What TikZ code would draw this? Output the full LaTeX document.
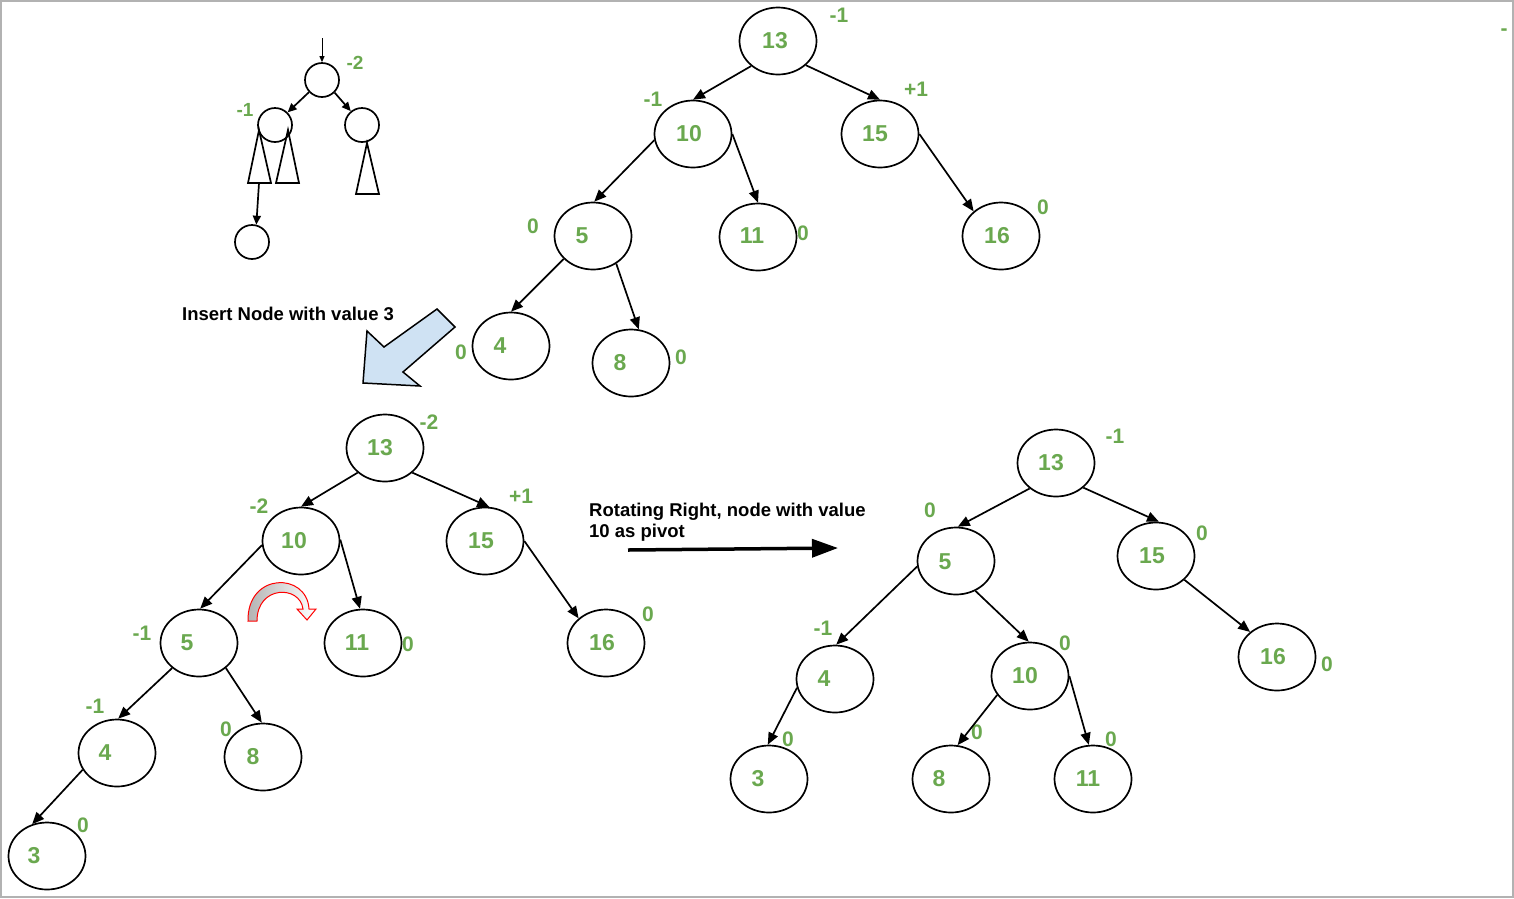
\documentclass[tikz,border=0pt]{standalone}
\usepackage{fontspec}
\setmainfont{Liberation Sans}
\usetikzlibrary{shapes.geometric,arrows.meta}
\definecolor{gr}{RGB}{106,168,79}
\definecolor{lb}{RGB}{207,226,243}
\newcommand\avlnode[6]{%
  \node[tn] (#1) at (#2) {};
  \node[num] (#1t) at (#3) {#4};
  \node[bal] (#1b) at (#5) {#6};}
\begin{document}
\begin{tikzpicture}[x=1pt,y=-1pt,
  tn/.style={draw,ellipse,line width=1.7pt,minimum width=77pt,minimum height=67pt,inner sep=0pt},
  num/.style={text=gr,font=\fontsize{23}{23}\selectfont\bfseries,inner sep=0pt},
  bal/.style={text=gr,font=\fontsize{21}{21}\selectfont\bfseries,inner sep=0pt},
  sbal/.style={text=gr,font=\fontsize{19}{19}\selectfont\bfseries,inner sep=0pt},
  edge/.style={line width=1.7pt,-{Triangle[length=12pt,width=10pt]}},
  sedge/.style={line width=1.7pt,-{Triangle[length=9pt,width=8pt]}},
  sc/.style={draw,circle,line width=1.7pt,minimum size=34pt,inner sep=0pt},
  tri/.style={draw,line width=1.7pt},
  lbl/.style={font=\fontsize{18.5}{18.5}\selectfont\bfseries,inner sep=0pt,anchor=base west}]
\useasboundingbox (0,0) rectangle (1514,898);
\draw[gray!60,line width=1.5pt] (1,1) rectangle (1513,897);

% ---------- small schematic ----------
\node[sc] (S1) at (322,80) {};
\node[sc] (S2) at (275,125) {};
\node[sc] (S3) at (362,125) {};
\node[sc] (S4) at (252,242) {};
\coordinate (Sin) at (322,38);
\draw[line width=0.9pt,-{Triangle[length=6pt,width=5pt]}] (Sin) -- (S1.north);
\draw[sedge] (S1.223) -- (S2.45);
\draw[sedge] (S1.315) -- (S3.129);
\draw[tri] (259,130) -- (248,183) -- (271,183) -- cycle;
\draw[tri] (288,130) -- (276,183) -- (299,183) -- cycle;
\draw[tri] (367,143) -- (356,194) -- (379,194) -- cycle;
\coordinate (T1b) at (259,183);
\draw[sedge] (T1b) -- (S4.76);
\node[sbal] (S1b) at (355,63) {-2};
\node[sbal] (S2b) at (245,110) {-1};

% ---------- top tree ----------
\avlnode{A13}{778,41}{775,41}{13}{839,15}{-1}
\avlnode{A10}{693,134}{689,134}{10}{653,99}{-1}
\avlnode{A15}{880,134}{875,134}{15}{916,89}{+1}
\avlnode{A5}{593,236}{582,236}{5}{533,226}{0}
\avlnode{A11}{758,237}{752,236}{11}{803,233}{0}
\avlnode{A16}{1001,236}{997,236}{16}{1043,207}{0}
\avlnode{A4}{511,346}{500,346}{4}{461,352}{0}
\avlnode{A8}{631,363}{620,363}{8}{681,357}{0}
\draw[edge] (A13.223) -- (A10.90);
\draw[edge] (A13.319) -- (A15.90);
\draw[edge] (A10.189) -- (A5.88);
\draw[edge] (A10.0) -- (A11.90);
\draw[edge] (A15.0) -- (A16.138);
\draw[edge] (A5.218) -- (A4.90);
\draw[edge] (A5.310) -- (A8.77);

% ---------- insert arrow ----------
\node[lbl] (ins) at (182,320) {Insert Node with value 3};
\draw[fill=lb,line width=1.5pt,line join=miter] (363,383) -- (367,331) -- (384,347) -- (437,309) -- (455,327) -- (403,372) -- (420,386) -- cycle;

% ---------- bottom-left tree ----------
\avlnode{B13}{385,448}{380,448}{13}{429,422}{-2}
\avlnode{B10}{301,541}{294,541}{10}{259,506}{-2}
\avlnode{B15}{485,541}{481,541}{15}{521,496}{+1}
\avlnode{B5}{199,643}{187,643}{5}{142,633}{-1}
\avlnode{B11}{363,643}{357,643}{11}{408,644}{0}
\avlnode{B16}{606,643}{602,643}{16}{648,614}{0}
\avlnode{B4}{117,753}{105,753}{4}{95,706}{-1}
\avlnode{B8}{263,757}{253,757}{8}{226,729}{0}
\avlnode{B3}{47,856}{34,856}{3}{83,825}{0}
\draw[edge] (B13.222) -- (B10.90);
\draw[edge] (B13.318) -- (B15.83);
\draw[edge] (B10.186) -- (B5.88);
\draw[edge] (B10.2) -- (B11.95);
\draw[edge] (B15.0) -- (B16.138);
\draw[edge] (B5.223) -- (B4.88);
\draw[edge] (B5.317) -- (B8.92);
\draw[edge] (B4.206) -- (B3.115);

% red rotation arrow
\path[draw=red,line width=1pt,left color=gray!60,right color=white]
  (248,621) .. controls (247,572) and (307,572) .. (309,609) -- (316,609) -- (307,620) -- (297,609) -- (303,609)
  .. controls (300,585) and (257,585) .. (257,621) -- cycle;

% ---------- rotation label & arrow ----------
\node[lbl] (rot1) at (589,516) {Rotating Right, node with value};
\node[lbl] (rot2) at (589,537) {10 as pivot};
\coordinate (rs) at (628,550);
\coordinate (re) at (838,548);
\draw[line width=3.5pt,-{Triangle[length=26pt,width=18pt]}] (rs) -- (re);

% ---------- bottom-right tree ----------
\avlnode{C13}{1056,463}{1051,463}{13}{1115,436}{-1}
\avlnode{C5}{956,561}{945,562}{5}{930,510}{0}
\avlnode{C15}{1156,556}{1152,556}{15}{1202,533}{0}
\avlnode{C4}{835,679}{824,679}{4}{823,628}{-1}
\avlnode{C10}{1030,676}{1025,676}{10}{1065,643}{0}
\avlnode{C16}{1277,657}{1273,657}{16}{1327,664}{0}
\avlnode{C3}{769,779}{758,779}{3}{788,739}{0}
\avlnode{C8}{951,779}{939,779}{8}{977,732}{0}
\avlnode{C11}{1093,779}{1088,779}{11}{1111,739}{0}
\draw[edge] (C13.224) -- (C5.87);
\draw[edge] (C13.318) -- (C15.85);
\draw[edge] (C5.188) -- (C4.88);
\draw[edge] (C5.303) -- (C10.92);
\draw[edge] (C15.320) -- (C16.137);
\draw[edge] (C4.193) -- (C3.92);
\draw[edge] (C10.210) -- (C8.79);
\draw[edge] (C10.0) -- (C11.97);

\node[bal] (dash) at (1504,32) {-};
\end{tikzpicture}
\end{document}
